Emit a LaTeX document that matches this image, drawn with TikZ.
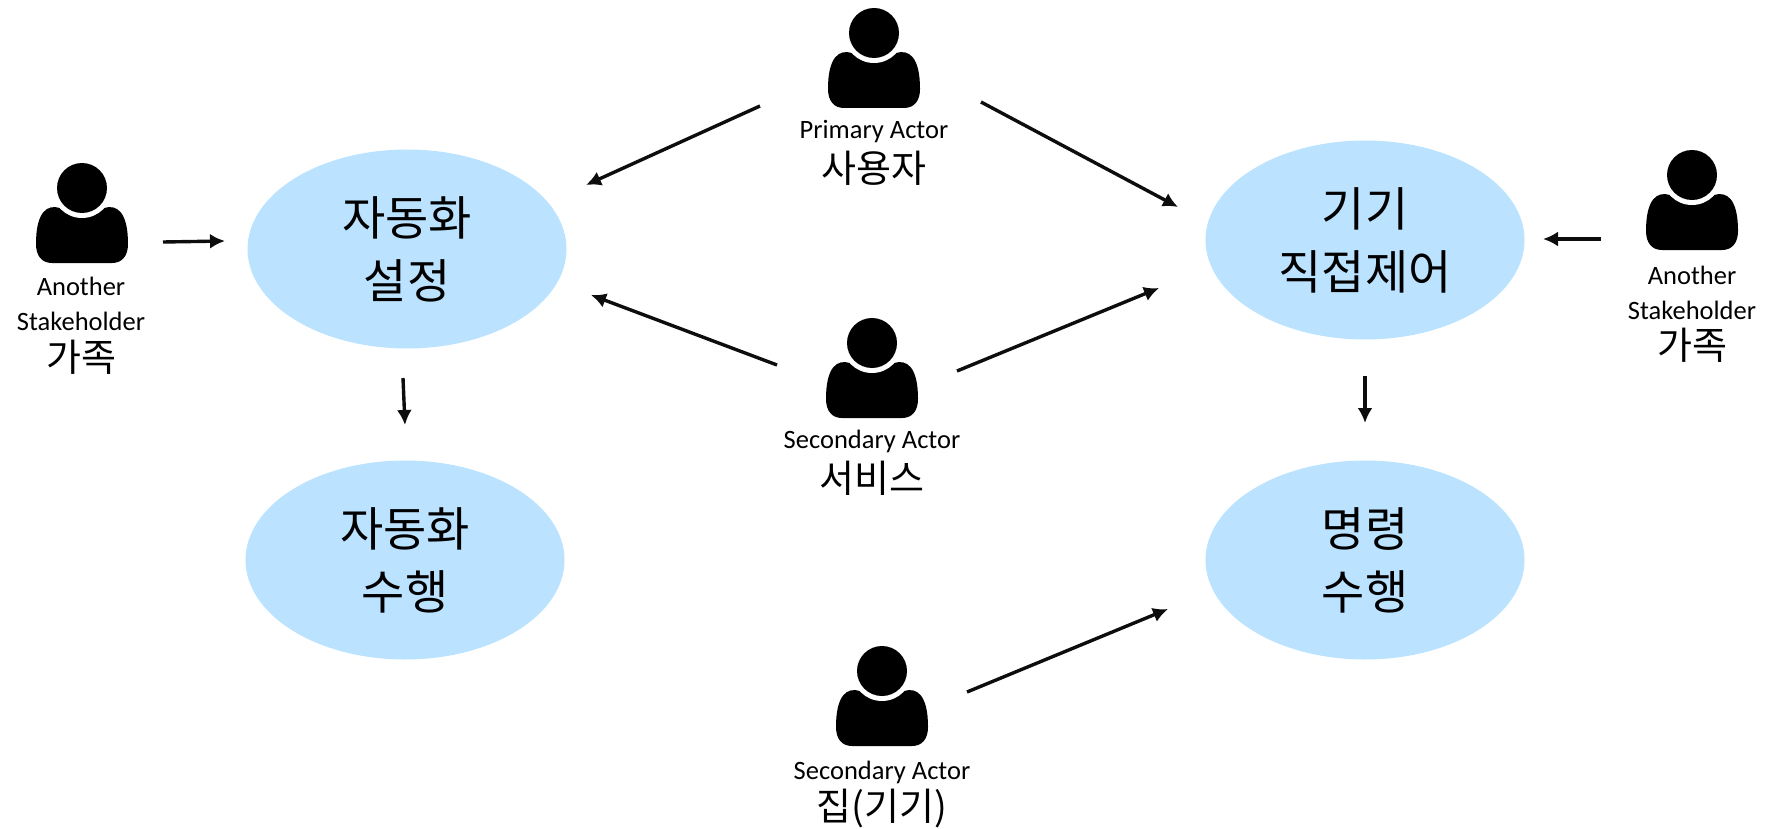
\documentclass[tikz,border=0pt]{standalone}
\usepackage{fontspec}
\setmainfont{Carlito}
\newfontfamily\krfont{Noto Sans CJK KR}
\usetikzlibrary{shapes.geometric,arrows.meta}
\definecolor{usecase}{HTML}{BBE2FF}
\tikzset{
  usecase/.style={ellipse,fill=usecase,minimum width=319pt,minimum height=199pt,inner sep=0pt,align=center,
    font=\krfont\fontsize{47}{63}\selectfont},
  latin/.style={inner sep=0pt,font=\fontsize{26.5}{30}\selectfont},
  hangul/.style={inner sep=0pt,font=\krfont\fontsize{38}{44}\selectfont},
  flow/.style={draw=black!95,line width=3.4pt,-{Latex[length=15pt,width=15pt]}},
  person/.pic={
    \fill[black] (-22,20) .. controls (-35,16) and (-46,24) .. (-46,56)
       .. controls (-46,68) and (-40,75) .. (-30,75) -- (30,75)
       .. controls (40,75) and (46,68) .. (46,56)
       .. controls (46,24) and (35,16) .. (22,20) -- cycle;
    \fill[white] (0,0) circle[radius=30];
    \fill[black] (0,0) circle[radius=25];
  }
}
\begin{document}
\begin{tikzpicture}[x=1pt,y=-1pt]
\useasboundingbox (0,0) rectangle (1766,829);
\node[usecase] (setup) at (407,249) {자동화\\설정};
\node[usecase] (run) at (405,560) {자동화\\수행};
\node[usecase] (direct) at (1365,240) {기기\\직접제어};
\node[usecase] (cmd) at (1365,560) {명령\\수행};

\pic at (874,33) {person};
\pic at (82,188) {person};
\pic at (872,343) {person};
\pic at (882,671) {person};
\pic at (1692,175) {person};

\node[latin] (pa) at (874,132) {Primary Actor};
\node[hangul] (pk) at (874,168) {사용자};
\node[latin] (la1) at (81,286) {Another};
\node[latin] (la2) at (81,321) {Stakeholder};
\node[hangul] (lk) at (81,357) {가족};
\node[latin] (ra1) at (1692,275) {Another};
\node[latin] (ra2) at (1692,310) {Stakeholder};
\node[hangul] (rk) at (1692,345) {가족};
\node[latin] (sa) at (872,441) {Secondary Actor};
\node[hangul] (sk) at (872,478) {서비스};
\node[latin] (ha) at (882,772) {Secondary Actor};
\node[hangul] (hk) at (882,809) {집(기기)};

\coordinate (a1) at (163,242); \coordinate (a2) at (225,241);
\coordinate (b1) at (403,378); \coordinate (b2) at (405,425);
\coordinate (c1) at (760,106); \coordinate (c2) at (586,185);
\coordinate (d1) at (981,102); \coordinate (d2) at (1178,207);
\coordinate (e1) at (777,365); \coordinate (e2) at (591,295);
\coordinate (f1) at (957,371); \coordinate (f2) at (1159,288);
\coordinate (g1) at (967,692); \coordinate (g2) at (1168,609);
\coordinate (h1) at (1601,239); \coordinate (h2) at (1543,239);
\coordinate (i1) at (1365,376); \coordinate (i2) at (1365,423);
\draw[flow] (a1) -- (a2);
\draw[flow] (b1) -- (b2);
\draw[flow] (c1) -- (c2);
\draw[flow] (d1) -- (d2);
\draw[flow] (e1) -- (e2);
\draw[flow] (f1) -- (f2);
\draw[flow] (g1) -- (g2);
\draw[flow] (h1) -- (h2);
\draw[flow] (i1) -- (i2);
\end{tikzpicture}
\end{document}
